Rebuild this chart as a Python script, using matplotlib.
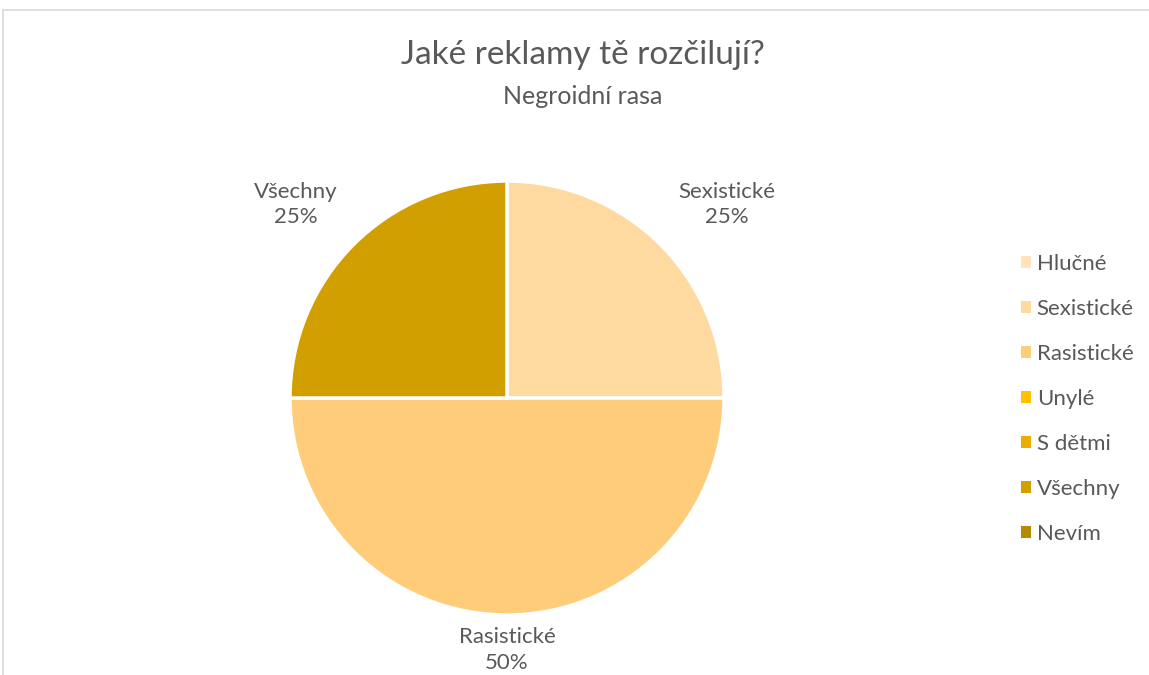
import matplotlib
matplotlib.use("Agg")
import matplotlib.pyplot as plt
from matplotlib.patches import Patch, Rectangle
import numpy as np

CATEGORIES = ["Hlučné", "Sexistické", "Rasistické", "Unylé", "S dětmi", "Všechny", "Nevím"]
VALUES = [0, 25, 50, 0, 0, 25, 0]
COLORS = ["#FFE3BD", "#FED9A0", "#FFCD7A", "#FFC000", "#E9AE00", "#D29F00", "#B58A00"]
TITLE = "Jaké reklamy tě rozčilují?"
SUBTITLE = "Negroidní rasa"

TEXT = "#595959"
plt.rcParams["font.family"] = ["Lato", "DejaVu Sans"]

W, H = 1149, 675
fig = plt.figure(figsize=(W / 100, H / 100), dpi=100)

# chart frame (light border on left/top)
fig.patches.append(Rectangle((3 / W, -0.1), 1.2, (H - 10) / H + 0.1, transform=fig.transFigure,
                             fill=False, edgecolor="#D9D9D9", linewidth=1.2))

cx, cy, r = 507, 398, 217
ax = fig.add_axes([(cx - r) / W, (H - cy - r) / H, 2 * r / W, 2 * r / H])
ax.set_aspect("equal")

nz = [i for i, v in enumerate(VALUES) if v > 0]
vals = [VALUES[i] for i in nz]
wedges, _ = ax.pie(vals, colors=[COLORS[i] for i in nz], startangle=90, counterclock=False,
                   wedgeprops=dict(edgecolor="white", linewidth=2.5), radius=1.0)
ax.set_xlim(-1, 1)
ax.set_ylim(-1, 1)

total = sum(VALUES)
# (distance, angle shift in degrees) for the outside labels
label_pos = {"Sexistické": (1.35, -3.7), "Rasistické": (1.16, 0), "Všechny": (1.32, 2.5)}
for w, i in zip(wedges, nz):
    d, shift = label_pos.get(CATEGORIES[i], (1.3, 0))
    ang = np.deg2rad((w.theta1 + w.theta2) / 2 + shift)
    ax.text(d * np.cos(ang), d * np.sin(ang), f"{CATEGORIES[i]}\n{VALUES[i] / total:.0%}",
            ha="center", va="center", fontsize=16, color=TEXT, linespacing=1.35)

fig.text(583 / W, 1 - 55 / H, TITLE, ha="center", va="center", fontsize=24, color=TEXT)
fig.text(583 / W, 1 - 97 / H, SUBTITLE, ha="center", va="center", fontsize=18, color=TEXT)

handles = [Patch(facecolor=c, edgecolor="none") for c in COLORS]
fig.legend(handles, CATEGORIES, loc="center left", bbox_to_anchor=(1010 / W, 1 - 399 / H),
           frameon=False, fontsize=16, labelcolor=TEXT, handlelength=0.45, handleheight=0.45,
           handletextpad=0.25, labelspacing=1.12, borderpad=0)

fig.savefig("out.png", dpi=100)
